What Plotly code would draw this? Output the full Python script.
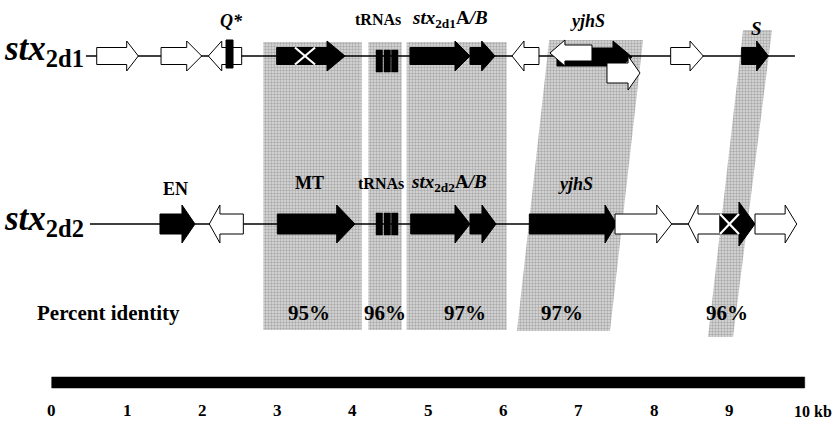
import plotly.graph_objects as go

# ---------------- data (kb) ----------------
# track 1: stx2d1 ; track 2: stx2d2
t1_line = [0.455, 9.87]
t2_line = [0.508, 9.897]

# genes: tail, tip (kb), fill
t1_tail = [0.598, 1.452, 2.523, 2.988, 4.758, 5.555, 6.471, 8.220, 9.163]
t1_tip  = [1.150, 1.992, 2.080, 3.895, 5.555, 5.887, 6.113, 8.653, 9.517]
t1_fill = ["white", "white", "white", "black", "black", "black", "white", "white", "black"]
t1_head = [0.154, 0.199, 0.178, 0.239, 0.199, 0.177, 0.159, 0.176, 0.155]

# yjhS complex on track 1 (black right, white left on top, white right below)
yjhs1_tail = [6.71, 7.175, 7.374]
yjhs1_tip  = [7.706, 6.617, 7.813]
yjhs1_fill = ["black", "white", "white"]
yjhs1_head = [0.252, 0.199, 0.159]

t2_tail = [1.438, 2.545, 2.996, 4.768, 5.555, 6.343, 7.481, 8.875, 8.875, 9.340]
t2_tip  = [1.903, 2.093, 4.028, 5.555, 5.900, 7.503, 8.234, 8.454, 9.340, 9.894]
t2_fill = ["black", "white", "black", "black", "black", "black", "white", "white", "black", "white"]
t2_head = [0.173, 0.141, 0.243, 0.199, 0.186, 0.155, 0.199, 0.129, 0.213, 0.154]

q_box = [2.315, 2.408]
trna_start = [4.307, 4.413, 4.513]
trna_end   = [4.393, 4.499, 4.599]
x_mark1 = [3.231, 3.497]
x_mark2 = [8.875, 9.127]

# homology regions: top-left, top-right, bottom-right, bottom-left (kb)
reg_tl = [2.810, 4.205, 4.714, 6.606, 9.181]
reg_tr = [4.117, 4.648, 6.042, 7.853, 9.566]
reg_br = [4.117, 4.648, 6.042, 7.414, 9.048]
reg_bl = [2.810, 4.205, 4.714, 6.179, 8.716]
identity = ["95%", "96%", "97%", "97%", "96%"]
identity_x = [3.417, 4.426, 5.489, 6.777, 8.968]

scale_kb = [0, 10]
tick_vals = [0, 1, 2, 3, 4, 5, 6, 7, 8, 9]
tick_text = ["0", "1", "2", "3", "4", "5", "6", "7", "8", "9"]

# ---------------- layout constants (pixel-like y) ----------------
Y1, Y2 = 56, 224
FONT = "Liberation Serif"

fig = go.Figure()


def poly(xs, ys, fill, line_color="black", lw=1.0):
    fig.add_trace(go.Scatter(x=xs, y=ys, mode="lines", fill="toself",
                             fillcolor=fill, line=dict(color=line_color, width=lw),
                             hoverinfo="skip", showlegend=False))


def arrow(tail, tip, hl, yc, bh, hh, fill):
    d = 1 if tip > tail else -1
    hb = tip - d * hl
    xs = [tail, hb, hb, tip, hb, hb, tail, tail]
    ys = [yc - bh, yc - bh, yc - hh, yc, yc + hh, yc + bh, yc + bh, yc - bh]
    poly(xs, ys, fill)


# gray homology regions
r_tops = [42, 42, 42, 40, 30]
r_bots = [330, 330, 330, 331, 337]
for i in range(len(reg_tl)):
    fig.add_trace(go.Scatter(
        x=[reg_tl[i], reg_tr[i], reg_br[i], reg_bl[i], reg_tl[i]],
        y=[r_tops[i], r_tops[i], r_bots[i], r_bots[i], r_tops[i]],
        mode="lines", fill="toself", fillcolor="#cccccc",
        fillpattern=dict(shape=".", size=3, solidity=0.5, fgcolor="#7a7a7a", bgcolor="#dcdcdc"),
        line=dict(width=0), hoverinfo="skip", showlegend=False))

# track lines
for ln, yy in ((t1_line, Y1), (t2_line, Y2)):
    fig.add_trace(go.Scatter(x=ln, y=[yy, yy], mode="lines",
                             line=dict(color="black", width=1.3),
                             hoverinfo="skip", showlegend=False))

# track 1 genes
for a, b, f, h in zip(t1_tail, t1_tip, t1_fill, t1_head):
    arrow(a, b, h, Y1, 8.5, 15, f)
poly([q_box[0], q_box[1], q_box[1], q_box[0], q_box[0]], [40, 40, 68, 68, 40], "black")

# yjhS complex
yc_list = [57, 53, 73]
bh_list = [9, 8, 10]
hh_list = [16, 13, 17]
for a, b, f, h, yc, bh, hh in zip(yjhs1_tail, yjhs1_tip, yjhs1_fill, yjhs1_head, yc_list, bh_list, hh_list):
    arrow(a, b, h, yc, bh, hh, f)

# track 2 genes
for i, (a, b, f, h) in enumerate(zip(t2_tail, t2_tip, t2_fill, t2_head)):
    hh = 22 if i == 8 else 19
    arrow(a, b, h, Y2, 10, hh, f)

# tRNA bars
for s, e in zip(trna_start, trna_end):
    poly([s, e, e, s, s], [50, 50, 72, 72, 50], "black", lw=0.5)
    poly([s, e, e, s, s], [213, 213, 235, 235, 213], "black", lw=0.5)

# X marks
for xm, yc, bh in ((x_mark1, Y1, 8.5), (x_mark2, Y2, 10)):
    fig.add_trace(go.Scatter(x=[xm[0], xm[1], None, xm[0], xm[1]],
                             y=[yc - bh, yc + bh, None, yc + bh, yc - bh],
                             mode="lines", line=dict(color="white", width=2.2),
                             hoverinfo="skip", showlegend=False))

# scale bar
fig.add_trace(go.Scatter(x=[scale_kb[0], scale_kb[1], scale_kb[1], scale_kb[0], scale_kb[0]],
                         y=[377, 377, 388, 388, 377], mode="lines", fill="toself",
                         fillcolor="black", line=dict(color="black", width=0.5),
                         hoverinfo="skip", showlegend=False))

ann = []


def txt(x, y, s, size, xanchor="center", yanchor="middle"):
    ann.append(dict(x=x, y=y, text=s, showarrow=False, xanchor=xanchor, yanchor=yanchor,
                    borderpad=0,
                    font=dict(family=FONT, size=size, color="black")))


txt(0.44, 50, "<b><i>stx</i><sub>2d1</sub></b>", 35, "right")
txt(0.44, 220, "<b><i>stx</i><sub>2d2</sub></b>", 35, "right")
txt(2.394, 21, "<b><i>Q*</i></b>", 18)
txt(4.334, 19, "<b>tRNAs</b>", 16)
txt(5.289, 19, "<b><i>stx</i><sub>2d1</sub>A<i>/B</i></b>", 19)
txt(7.122, 21, "<b><i>yjhS</i></b>", 18)
txt(9.366, 28, "<b><i>S</i></b>", 19)
txt(1.65, 189, "<b>EN</b>", 18)
txt(3.417, 183, "<b>MT</b>", 18)
txt(4.373, 183, "<b>tRNAs</b>", 16)
txt(5.276, 183, "<b><i>stx</i><sub>2d2</sub>A<i>/B</i></b>", 19)
txt(6.95, 184, "<b><i>yjhS</i></b>", 18)
txt(-0.208, 313, "<b>Percent identity</b>", 21, "left")
for s, xx in zip(identity, identity_x):
    txt(xx, 313, "<b>" + s + "</b>", 21)
for v, s in zip(tick_vals, tick_text):
    txt(v, 420.5, "<b>" + s + "</b>", 17, "center", "bottom")
txt(10.37, 420.5, "<b>10 kb</b>", 16, "right", "bottom")

fig.update_layout(
    width=834, height=421, margin=dict(l=0, r=0, t=0, b=0),
    paper_bgcolor="white", plot_bgcolor="white",
    xaxis=dict(range=[-0.6866, 10.389], visible=False, fixedrange=True),
    yaxis=dict(range=[421, 0], visible=False, fixedrange=True),
    annotations=ann, showlegend=False,
)

fig.write_html("out.html", config={"displayModeBar": False},
               post_script="document.body.style.margin='0';")
